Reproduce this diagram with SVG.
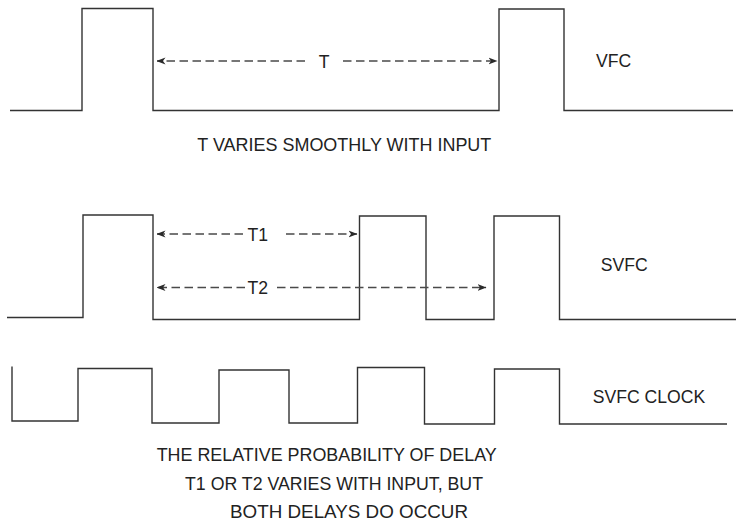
<svg xmlns="http://www.w3.org/2000/svg" width="736" height="522" viewBox="0 0 736 522">
<defs>
<marker id="ah" viewBox="0 0 9 8" refX="8.5" refY="4" markerWidth="9" markerHeight="8" markerUnits="userSpaceOnUse" orient="auto-start-reverse">
<path d="M0,0.5 L9,4 L0,7.5 L2.5,4 z" fill="#2a2a2a"/>
</marker>
</defs>
<style>
.wave{fill:none;stroke:#333;stroke-width:1.4;stroke-linejoin:miter}
.dash{fill:none;stroke:#4a4a4a;stroke-width:1.4;stroke-dasharray:8.5 4.5}
.lbl{font-family:"Liberation Sans",Arial,sans-serif;font-size:17.6px;fill:#222}
.mid{text-anchor:middle}
</style>
<rect width="736" height="522" fill="#fff"/>
<g id="vfc-wave"><path class="wave" d="M10,110.5 H82 V8.5 H153 V110.5 H499 V9 H564 V110.5 H733"/></g>
<g id="svfc-wave"><path class="wave" d="M7,317.5 H83 V215 H153 V319.5 H359.5 V216 H426 V319.5 H494 V216 H559.5 V319.5 H736"/></g>
<g id="clock-wave"><path class="wave" d="M12,366.5 V421 H78 V368.5 H152 V423 H219 V370 H289 V423 H357.5 V367.5 H424.5 V424 H494.5 V369 H559.5 V424 H727"/></g>
<g id="connectors">
<path class="dash" d="M305,61 H157" marker-end="url(#ah)"/>
<path class="dash" d="M343,61 H497" marker-end="url(#ah)"/>
<path class="dash" d="M243,234 H157" marker-end="url(#ah)"/>
<path class="dash" d="M286,234 H357" marker-end="url(#ah)"/>
<path class="dash" d="M245,287.5 H157" marker-end="url(#ah)"/>
<path class="dash" d="M277,287.5 H486" marker-end="url(#ah)"/>
</g>
<g id="label-T"><text class="lbl mid" x="324" y="67.5">T</text></g>
<g id="label-T1"><text class="lbl" x="247.5" y="240.5">T1</text></g>
<g id="label-T2"><text class="lbl" x="247.5" y="293.5">T2</text></g>
<g id="label-vfc"><text class="lbl" x="596" y="67.3">VFC</text></g>
<g id="label-svfc"><text class="lbl" x="600.7" y="270.7">SVFC</text></g>
<g id="label-clock"><text class="lbl" x="592.7" y="403.3">SVFC CLOCK</text></g>
<g id="caption-vfc"><text class="lbl" x="197.3" y="150.7" textLength="294" lengthAdjust="spacingAndGlyphs">T VARIES SMOOTHLY WITH INPUT</text></g>
<g id="caption-svfc">
<text class="lbl" x="156.7" y="460.7" textLength="340" lengthAdjust="spacingAndGlyphs">THE RELATIVE PROBABILITY OF DELAY</text>
<text class="lbl" x="185" y="490.2" textLength="298" lengthAdjust="spacingAndGlyphs">T1 OR T2 VARIES WITH INPUT, BUT</text>
<text class="lbl" x="230" y="517.5" textLength="238" lengthAdjust="spacingAndGlyphs">BOTH DELAYS DO OCCUR</text>
</g>
</svg>
